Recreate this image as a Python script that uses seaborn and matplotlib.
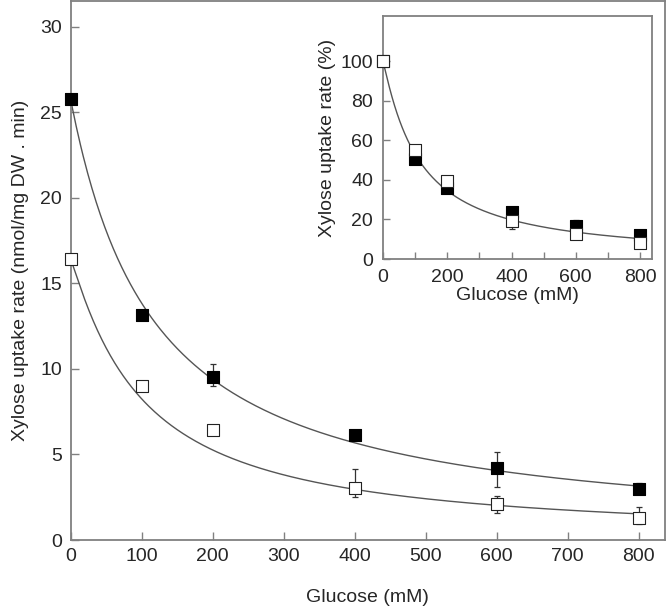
import numpy as np
import pandas as pd
import matplotlib
matplotlib.use("Agg")
import matplotlib.pyplot as plt
import seaborn as sns

# ---------------- data ----------------
glucose = [0, 100, 200, 400, 600, 800]

filled_rate = [25.77, 13.16, 9.53, 6.14, 4.19, 2.98]
filled_err_lo = [0, 0, 0.53, 0, 1.07, 0.10]
filled_err_hi = [0, 0, 0.74, 0, 0.97, 0.37]

open_rate = [16.43, 9.00, 6.43, 3.02, 2.10, 1.31]
open_err_lo = [0, 0, 0, 0.49, 0.54, 0.39]
open_err_hi = [0, 0, 0, 1.11, 0.47, 0.60]

inset_filled = [100, 50.5, 35.7, 23.7, 16.8, 12.1]
inset_filled_err_lo = [0, 0, 0, 0, 0, 0]
inset_filled_err_hi = [0, 0, 0, 0, 2.9, 0]
inset_open = [100, 55.2, 39.7, 19.0, 12.6, 7.9]
inset_open_err_lo = [0, 0, 0, 3.7, 2.7, 0]
inset_open_err_hi = [0, 0, 0, 0, 0, 0]

main_xticks = [0, 100, 200, 300, 400, 500, 600, 700, 800]
main_yticks = [0, 5, 10, 15, 20, 25, 30]
inset_xticks = [0, 200, 400, 600, 800]
inset_xminor = [100, 300, 500, 700]
inset_yticks = [0, 20, 40, 60, 80, 100]


def hill_fit(x, y):
    """Fit of y = y(0) / (1 + (x/K)^n), anchored at the x=0 value,
    minimising relative residuals."""
    x = np.asarray(x, float)
    y = np.asarray(y, float)
    a = y[x == 0].mean()
    best = None
    for K in np.linspace(20, 400, 381):
        for n in np.linspace(0.8, 1.1, 31):
            g = a / (1.0 + (x / K) ** n)
            r = np.sum(((y - g) / y) ** 2)
            if best is None or r < best[0]:
                best = (r, K, n)
    _, K, n = best
    xs = np.linspace(0, max(x), 400)
    return xs, a / (1.0 + (xs / K) ** n)


sns.set_theme(style="ticks")
plt.rcParams["font.family"] = ["Liberation Sans", "DejaVu Sans"]

FS = 14
fig = plt.figure(figsize=(6.66, 6.06), dpi=100)
ax = fig.add_axes([0.1059, 0.1089, 0.8926, 0.889])

spine_col = "#808080"
line_col = "#555555"

# fitted curves
for yv in (filled_rate, open_rate):
    xs, ys = hill_fit(glucose, yv)
    sns.lineplot(x=xs, y=ys, ax=ax, color=line_col, lw=1.0, zorder=2)

# error bars
ax.errorbar(glucose, filled_rate, yerr=[filled_err_lo, filled_err_hi], fmt="none",
            ecolor="#333333", elinewidth=0.9, capsize=2.5, capthick=0.9, zorder=3)
ax.errorbar(glucose, open_rate, yerr=[open_err_lo, open_err_hi], fmt="none",
            ecolor="#333333", elinewidth=0.9, capsize=2.5, capthick=0.9, zorder=3)

df_main = pd.DataFrame({"x": glucose * 2,
                        "y": filled_rate + open_rate,
                        "s": ["filled"] * 6 + ["open"] * 6})
sns.scatterplot(data=df_main[df_main.s == "filled"], x="x", y="y", ax=ax, marker="s",
                s=70, color="black", edgecolor="black", linewidth=0.8, zorder=4,
                legend=False, clip_on=False)
sns.scatterplot(data=df_main[df_main.s == "open"], x="x", y="y", ax=ax, marker="s",
                s=70, color="white", edgecolor="#222222", linewidth=0.8, zorder=4,
                legend=False, clip_on=False)

ax.set_xlim(0, 837)
ax.set_ylim(0, 31.5)
ax.set_xticks(main_xticks)
ax.set_yticks(main_yticks)
ax.tick_params(direction="in", length=6, width=1, color=spine_col, labelsize=FS,
               pad=6)
for sp in ax.spines.values():
    sp.set_visible(True)
    sp.set_color(spine_col)
    sp.set_linewidth(1.3)
ax.set_xlabel("Glucose (mM)", fontsize=FS, labelpad=17)
ax.set_ylabel("Xylose uptake rate (nmol/mg DW . min)", fontsize=FS, labelpad=8)

# ---------------- inset ----------------
ins = fig.add_axes([0.575, 0.5726, 0.4039, 0.401])
xs, ys = hill_fit(glucose * 2, inset_filled + inset_open)
sns.lineplot(x=xs, y=ys, ax=ins, color=line_col, lw=1.0, zorder=2)
ins.errorbar(glucose, inset_filled, yerr=[inset_filled_err_lo, inset_filled_err_hi],
             fmt="none", ecolor="#333333", elinewidth=0.9, capsize=2, capthick=0.9, zorder=3)
ins.errorbar(glucose, inset_open, yerr=[inset_open_err_lo, inset_open_err_hi],
             fmt="none", ecolor="#333333", elinewidth=0.9, capsize=2, capthick=0.9, zorder=3)
sns.scatterplot(x=glucose, y=inset_filled, ax=ins, marker="s", s=70, color="black",
                edgecolor="black", linewidth=0.8, zorder=4, legend=False, clip_on=False)
sns.scatterplot(x=glucose, y=inset_open, ax=ins, marker="s", s=70, color="white",
                edgecolor="#222222", linewidth=0.8, zorder=5, legend=False, clip_on=False)
ins.set_xlim(0, 837)
ins.set_ylim(0, 123)
ins.set_xticks(inset_xticks)
ins.set_xticks(inset_xminor, minor=True)
ins.set_yticks(inset_yticks)
ins.tick_params(which="both", direction="in", length=5, width=1, color=spine_col,
                labelsize=FS, pad=7)
for sp in ins.spines.values():
    sp.set_visible(True)
    sp.set_color(spine_col)
    sp.set_linewidth(1.3)
ins.set_xlabel("Glucose (mM)", fontsize=FS, labelpad=1)
ins.set_ylabel("Xylose uptake rate (%)", fontsize=FS, labelpad=3)

fig.savefig("out.png", dpi=100)
